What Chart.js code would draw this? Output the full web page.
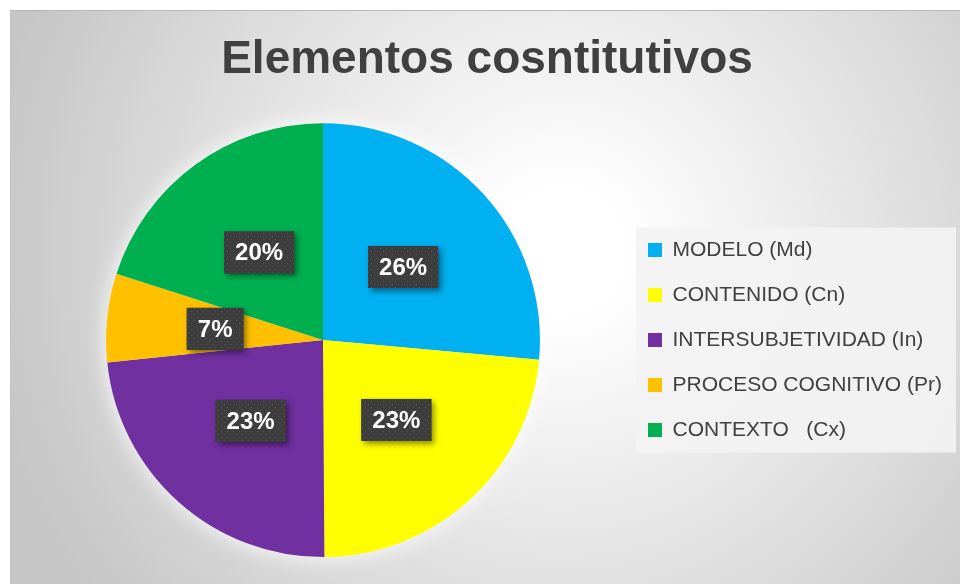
<!DOCTYPE html>
<html>
<head>
<meta charset="utf-8">
<script src="https://cdn.jsdelivr.net/npm/chart.js@4/dist/chart.umd.min.js"></script>
<style>
  html, body { margin: 0; padding: 0; background: #fff; }
  #marco {
    position: absolute; left: 10px; top: 10px; width: 950px; height: 574px;
    box-sizing: border-box;
    border-top: 1px solid #b9b9b9; border-left: 1px solid #c2c2c2;
    background: radial-gradient(circle at 550px 240px, #ffffff 0px, #ffffff 60px, #c6c6c6 580px);
  }
  canvas { position: absolute; left: -1px; top: -1px; }
</style>
</head>
<body>
<div id="marco"><canvas id="grafica" width="950" height="574"></canvas></div>
<script>
const titulo = "Elementos cosntitutivos";
const categorias = ["MODELO (Md)", "CONTENIDO (Cn)", "INTERSUBJETIVIDAD (In)", "PROCESO COGNITIVO (Pr)", "CONTEXTO   (Cx)"];
const valores = [26.45, 23.45, 23.45, 6.6, 20.05];
const colores = ["#00B0F0", "#FFFF00", "#7030A0", "#FFC000", "#00B050"];

// trama de puntos para las cajas de etiquetas
const trama = document.createElement("canvas");
trama.width = 6; trama.height = 6;
const tctx = trama.getContext("2d");
tctx.fillStyle = "#3d3d3d";
tctx.fillRect(0, 0, 6, 6);
tctx.fillStyle = "#555555";
tctx.fillRect(1, 1, 1, 1);
tctx.fillRect(4, 4, 1, 1);

const fondoLeyenda = {
  id: "fondoLeyenda",
  beforeDraw(chart) {
    const leg = chart.legend;
    const cajas = leg.legendHitBoxes;
    if (!cajas || !cajas.length) return;
    const c = chart.ctx;
    const x0 = leg.left + leg.options.labels.padding - 12;
    const y0 = cajas[0].top + cajas[0].height / 2 - 22.5;
    const ult = cajas[cajas.length - 1];
    const y1 = ult.top + ult.height / 2 + 22.5;
    c.save();
    c.fillStyle = "rgba(243,243,243,0.9)";
    c.fillRect(x0, y0, 955 - 10 - x0 + 1, y1 - y0);
    c.restore();
  },
  beforeDatasetsDraw(chart) {
    const arco = chart.getDatasetMeta(0).data[0];
    if (!arco) return;
    const c = chart.ctx;
    c.save();
    c.shadowColor = "rgba(255,255,255,0.95)";
    c.shadowBlur = 22;
    c.fillStyle = "#e8e8e8";
    c.beginPath();
    c.arc(arco.x, arco.y, arco.outerRadius, 0, Math.PI * 2);
    c.fill();
    c.restore();
  }
};

const etiquetas = {
  id: "etiquetas",
  afterDatasetsDraw(chart) {
    const c = chart.ctx;
    const meta = chart.getDatasetMeta(0);
    const total = valores.reduce((a, b) => a + b, 0);
    c.save();
    c.font = "bold 24px 'Liberation Sans', Arial, sans-serif";
    c.textAlign = "center";
    c.textBaseline = "middle";
    const patron = c.createPattern(trama, "repeat");
    meta.data.forEach((arco, i) => {
      const p = arco.getCenterPoint();
      const txt = Math.round(valores[i] / total * 100) + "%";
      const w = c.measureText(txt).width + 22;
      const h = 42;
      const x = p.x - w / 2, y = p.y - h / 2;
      c.save();
      c.shadowColor = "rgba(0,0,0,0.45)";
      c.shadowBlur = 6;
      c.shadowOffsetX = 3;
      c.shadowOffsetY = 3;
      c.fillStyle = "#3d3d3d";
      c.fillRect(x, y, w, h);
      c.restore();
      c.fillStyle = patron;
      c.fillRect(x, y, w, h);
      c.fillStyle = "#ffffff";
      c.fillText(txt, p.x, p.y + 1);
    });
    c.restore();
  }
};

const ctx = document.getElementById("grafica").getContext("2d");

new Chart(ctx, {
  type: "pie",
  data: {
    labels: categorias,
    datasets: [{
      data: valores,
      backgroundColor: colores,
      borderWidth: 0
    }]
  },
  options: {
    responsive: false,
    animation: false,
    devicePixelRatio: 1,
    layout: { padding: { left: 12, right: 8, top: 0, bottom: 27 } },
    plugins: {
      title: {
        display: true,
        text: titulo,
        color: "#404040",
        font: { family: "'Liberation Sans', Arial, sans-serif", size: 46, weight: "bold" },
        padding: { top: 23, bottom: 35 }
      },
      legend: {
        position: "right",
        fullSize: false,
        labels: {
          boxWidth: 14,
          boxHeight: 14,
          padding: 24,
          color: "#404040",
          font: { family: "'Liberation Sans', Arial, sans-serif", size: 21 }
        }
      },
      tooltip: { enabled: false }
    }
  },
  plugins: [fondoLeyenda, etiquetas]
});
</script>
</body>
</html>
